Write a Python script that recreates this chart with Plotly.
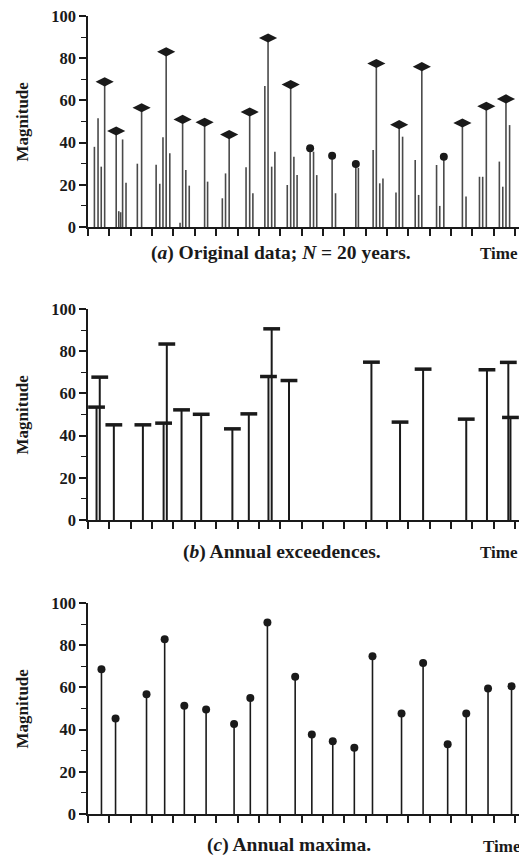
import plotly.graph_objects as go

# (a) original data: every event, time in years and magnitude
a_time = [0.30, 0.47, 0.62, 0.78,
          1.32, 1.44, 1.53, 1.62, 1.78,
          2.31, 2.51,
          3.19, 3.36, 3.51, 3.66, 3.83,
          4.31, 4.43, 4.58, 4.74,
          5.46, 5.60,
          6.29, 6.44, 6.61,
          7.40, 7.57, 7.72,
          8.28, 8.43, 8.60, 8.75,
          9.33, 9.49, 9.64, 9.79,
          10.40, 10.56, 10.71,
          11.43, 11.59,
          12.54, 12.66,
          13.35, 13.50, 13.66, 13.81,
          14.42, 14.57, 14.73,
          15.32, 15.48, 15.63,
          16.32, 16.47, 16.66,
          17.53, 17.70,
          18.33, 18.48, 18.65,
          19.26, 19.42, 19.57, 19.74]
a_value = [38, 51.5, 28.6, 68.8,
           45.5, 7.5, 7, 41.5, 21,
           30, 56.5,
           29.5, 20.5, 42.5, 83, 35,
           2, 51, 27, 19.6,
           49.6, 21.5,
           13.6, 25.4, 43.8,
           28.3, 54.5, 16,
           66.8, 89.6, 28.6, 35.7,
           19.9, 67.5, 33.3, 24.6,
           37.3, 35.7, 24.6,
           33.8, 16,
           29.9, 28,
           36.5, 77.5, 20.7, 23,
           16.3, 48.5, 42.8,
           31.8, 15.2, 76,
           29.4, 10, 33.3,
           49.3, 14.4,
           23.8, 23.8, 57.2,
           31, 19.1, 60.7, 48.3]

# (b) annual exceedences
b_time = [0.40, 0.55, 1.21, 2.57, 3.54, 3.69, 4.38, 5.30, 6.76, 7.53,
          8.45, 8.60, 9.41, 13.27, 14.61, 15.69, 17.71, 18.68, 19.68, 19.78]
b_value = [53.5, 67.7, 45.1, 45.1, 45.9, 83.4, 52.2, 50.1, 43.2, 50.3,
           68.0, 90.6, 66.1, 74.8, 46.4, 71.5, 47.8, 71.2, 74.7, 48.6]

# (c) annual maxima
c_time = [0.63, 1.29, 2.74, 3.59, 4.51, 5.53, 6.84, 7.60, 8.40, 9.70,
          10.48, 11.46, 12.47, 13.32, 14.68, 15.69, 16.84, 17.71, 18.73, 19.83]
c_value = [68.6, 45.3, 56.8, 82.8, 51.3, 49.5, 42.6, 55.0, 90.7, 65.0,
           37.7, 34.5, 31.4, 74.8, 47.6, 71.6, 33.1, 47.6, 59.5, 60.6]

captions = ["(<i>a</i>) Original data; <i>N</i> = 20 years.",
            "(<i>b</i>) Annual exceedences.",
            "(<i>c</i>) Annual maxima."]

FONT = "Liberation Serif"
INK = "#1a1a1a"
OFF = 8                      # page body margin around the plot div
W, H = 527 - 2 * OFF, 859 - OFF
L, R = 88 - OFF, 0
PW = W - L - R
# screen rows of each panel (value 100 at top, 0 at bottom)
panels = [(16, 227), (309, 520), (603, 814)]
cap_y = [253, 552, 845]
cap_x = [281, 282, 289]
time_pos = [(499, 253), (499, 552), (502, 846)]


def px2x(px):
    return (px - OFF - L) / PW


def py2y(py):
    return 1 - (py - OFF) / H


def stems(t, v):
    xs, ys = [], []
    for ti, vi in zip(t, v):
        xs += [ti, ti, None]
        ys += [0, vi, None]
    return xs, ys


fig = go.Figure()

# (a) all events, yearly maximum gets a lens head (dot if small)
xs, ys = stems(a_time, a_value)
fig.add_trace(go.Scatter(x=xs, y=ys, mode="lines", line=dict(color="#4a4a4a", width=1.6),
                         xaxis="x", yaxis="y", hoverinfo="skip"))
best = {}
for t, v in zip(a_time, a_value):
    yr = int(t)
    if yr not in best or v > best[yr][1]:
        best[yr] = (t, v)
big = [p for p in best.values() if p[1] >= 40]
small = [p for p in best.values() if p[1] < 40]
fig.add_trace(go.Scatter(x=[p[0] for p in big], y=[p[1] for p in big], mode="markers",
                         marker=dict(symbol="diamond-wide", size=13, color=INK),
                         xaxis="x", yaxis="y", cliponaxis=False))
fig.add_trace(go.Scatter(x=[p[0] for p in small], y=[p[1] for p in small], mode="markers",
                         marker=dict(symbol="circle", size=8, color=INK),
                         xaxis="x", yaxis="y"))

# (b) exceedences
xs, ys = stems(b_time, b_value)
fig.add_trace(go.Scatter(x=xs, y=ys, mode="lines", line=dict(color=INK, width=2),
                         xaxis="x2", yaxis="y2", hoverinfo="skip"))
fig.add_trace(go.Scatter(x=b_time, y=b_value, mode="markers",
                         marker=dict(symbol="line-ew", size=12, line=dict(color=INK, width=3.5)),
                         xaxis="x2", yaxis="y2", cliponaxis=False))

# (c) maxima
xs, ys = stems(c_time, c_value)
fig.add_trace(go.Scatter(x=xs, y=ys, mode="lines", line=dict(color=INK, width=1.6),
                         xaxis="x3", yaxis="y3", hoverinfo="skip"))
fig.add_trace(go.Scatter(x=c_time, y=c_value, mode="markers",
                         marker=dict(symbol="circle", size=8, color=INK),
                         xaxis="x3", yaxis="y3", cliponaxis=False))

xax = dict(range=[0, 20.18], domain=[0, 1], showgrid=False, zeroline=False,
           showline=True, linecolor=INK, linewidth=1.5, automargin=False,
           tickmode="linear", tick0=0, dtick=1, ticks="outside", ticklen=7,
           tickwidth=1.5, tickcolor=INK, showticklabels=False)
layout = dict(width=W, height=H, plot_bgcolor="white", paper_bgcolor="white",
              margin=dict(l=L, r=R, t=0, b=0, autoexpand=False), showlegend=False,
              font=dict(family=FONT, size=17, color=INK))
annotations = []
for i, (top, bot) in enumerate(panels):
    sfx = "" if i == 0 else str(i + 1)
    layout["xaxis" + sfx] = dict(xax, anchor="y" + sfx)
    layout["yaxis" + sfx] = dict(
        range=[0, 100], domain=[py2y(bot), py2y(top)], anchor="x" + sfx,
        showgrid=False, zeroline=False, showline=True, linecolor=INK, linewidth=1.5,
        automargin=False, ticklabeloverflow="allow",
        tickmode="array", tickvals=[0, 20, 40, 60, 80, 100], ticks="outside",
        ticklen=7, tickwidth=1.5, tickcolor=INK,
        minor=dict(tickvals=[10, 30, 50, 70, 90], ticks="outside", ticklen=5,
                   tickwidth=1.2, tickcolor=INK),
        tickfont=dict(family=FONT, size=16.5, weight="bold"))
    common = dict(xref="paper", yref="paper", showarrow=False,
                  xanchor="center", yanchor="middle")
    annotations.append(dict(common, text="<b>Magnitude</b>", x=px2x(22),
                            y=py2y((top + bot) / 2), textangle=-90, font=dict(size=17)))
    annotations.append(dict(common, text="<b>" + captions[i] + "</b>", x=px2x(cap_x[i]),
                            y=py2y(cap_y[i]), font=dict(size=19.5)))
    annotations.append(dict(common, text="<b>Time</b>", x=px2x(time_pos[i][0]),
                            y=py2y(time_pos[i][1]), font=dict(size=17)))
layout["annotations"] = annotations
fig.update_layout(**layout)

fig.write_html("out.html")
